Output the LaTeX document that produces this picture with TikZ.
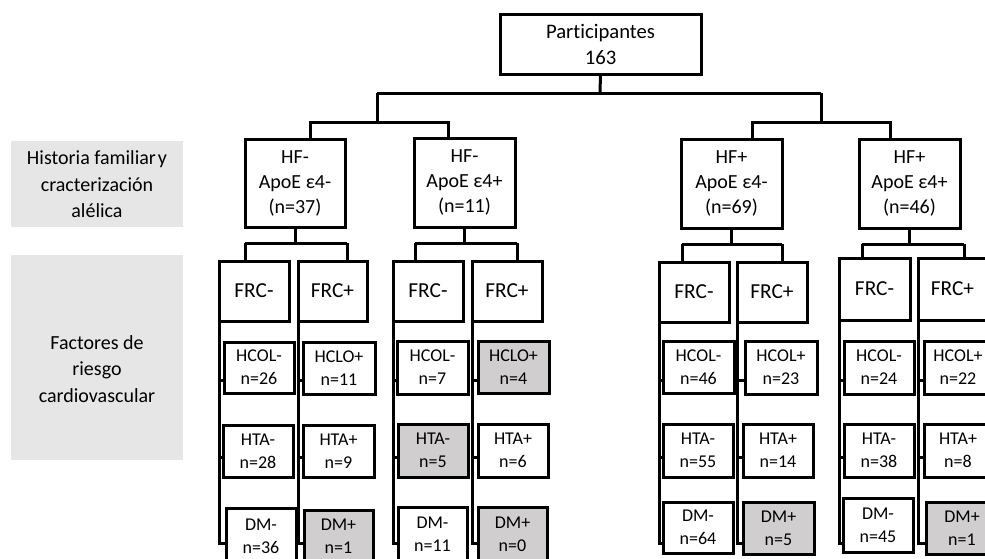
\documentclass[tikz,border=0pt]{standalone}
\usepackage{fontspec}
\setmainfont[Ligatures=NoCommon]{Carlito}
\definecolor{hl}{HTML}{D0CECE}
\definecolor{labgray}{HTML}{E7E6E6}
\newcommand\bx[7]{%
  \pgfmathsetmacro\bxcx{(#2+#4)/2}%
  \pgfmathsetmacro\bxcy{(#3+#5)/2}%
  \pgfmathsetmacro\bxw{(#4-#2)*0.75}%
  \pgfmathsetmacro\bxh{(#5-#3)*0.75}%
  \node[#6, minimum width=\bxw pt, minimum height=\bxh pt] (#1) at (\bxcx,\bxcy) {#7};}
\tikzset{
  box/.style={draw, line width=2.25pt, inner sep=0pt, outer sep=0pt, align=center, fill=white},
  big/.style={box, font=\fontsize{15}{18.75}\selectfont},
  topbox/.style={box, font=\fontsize{15.5}{19.5}\selectfont},
  frc/.style={box, font=\fontsize{16}{19}\selectfont},
  sm/.style={box, font=\fontsize{13.5}{17.25}\selectfont},
  gr/.style={fill=hl},
  labbox/.style={fill=labgray, inner sep=0pt, outer sep=0pt},
  labtxt/.style={align=center, font=\fontsize{15}{19.8}\selectfont},
  ln/.style={line width=2.25pt}
}
\begin{document}
\begin{tikzpicture}[x=0.75pt,y=-0.75pt]
\useasboundingbox (0,0) rectangle (985,558);
\clip (0,0) rectangle (985,558);
% side labels
\bx{L1}{11}{141}{183}{227}{labbox}{}
\node[labtxt] (L1t) at (97,184.5) {Historia familiar\hspace{0.1em}y\\cracterización\\alélica};
\bx{L2}{11}{255}{183}{460}{labbox}{}
\node[labtxt] (L2t) at (97,369) {Factores de\\riesgo\\cardiovascular};
% junction coordinates
\coordinate (j0) at (600,93);
\coordinate (jl) at (377,93);
\coordinate (jr) at (821,93);
\coordinate (jlm) at (377,122);
\coordinate (jrm) at (821,122);
\coordinate (jA) at (310,122);
\coordinate (jB) at (448,122);
\coordinate (jC) at (752,122);
\coordinate (jD) at (890,122);
\coordinate (t1) at (0,380);
\coordinate (t2) at (0,457);
\coordinate (t3) at (0,543);
% level 1 / 2 boxes
\bx{P}{500}{14}{701}{74}{topbox}{Participantes\\163}
\bx{A}{245}{139}{345}{227}{big}{HF-\\ApoE ε4-\\(n=37)}
\bx{B}{414}{138}{515}{227}{big}{HF-\\ApoE ε4+\\(n=11)}
\bx{C}{681}{139}{782}{228}{big}{HF+\\ApoE ε4-\\(n=69)}
\bx{D}{859}{139}{960}{228}{big}{HF+\\ApoE ε4+\\(n=46)}
% FRC boxes
\bx{A1}{219}{261}{289}{321}{frc}{FRC-}
\bx{A2}{298}{261}{367}{321}{frc}{FRC+}
\bx{B1}{393}{261}{463}{321}{frc}{FRC-}
\bx{B2}{472}{261}{542}{321}{frc}{FRC+}
\bx{C1}{659}{262}{729}{322}{frc}{FRC-}
\bx{C2}{737}{262}{807}{322}{frc}{FRC+}
\bx{D1}{839}{258}{910}{320}{frc}{FRC-}
\bx{D2}{918}{258}{987}{320}{frc}{FRC+}
% sub boxes
\bx{A1h}{224}{342}{294}{393}{sm}{HCOL-\\n=26}
\bx{A1t}{223}{425}{293}{477}{sm}{HTA-\\n=28}
\bx{A1d}{226}{508}{296}{564}{sm}{DM-\\n=36}
\bx{A2h}{303}{342}{375}{394}{sm}{HCLO+\\n=11}
\bx{A2t}{303}{425}{374}{477}{sm}{HTA+\\n=9}
\bx{A2d}{304}{510}{373}{563}{sm,gr}{DM+\\n=1}
\bx{B1h}{397}{341}{468}{394}{sm}{HCOL-\\n=7}
\bx{B1t}{398}{424}{468}{477}{sm,gr}{HTA-\\n=5}
\bx{B1d}{398}{507}{467}{561}{sm}{DM-\\n=11}
\bx{B2h}{478}{341}{549}{393}{sm,gr}{HCLO+\\n=4}
\bx{B2t}{478}{424}{548}{477}{sm}{HTA+\\n=6}
\bx{B2d}{478}{507}{547}{561}{sm,gr}{DM+\\n=0}
\bx{C1h}{663}{341}{734}{393}{sm}{HCOL-\\n=46}
\bx{C1t}{663}{424}{733}{477}{sm}{HTA-\\n=55}
\bx{C1d}{663}{502}{733}{553}{sm}{DM-\\n=64}
\bx{C2h}{745}{341}{817}{394}{sm}{HCOL+\\n=23}
\bx{C2t}{743}{424}{813}{477}{sm}{HTA+\\n=14}
\bx{C2d}{743}{502}{814}{554}{sm,gr}{DM+\\n=5}
\bx{D1h}{844}{341}{914}{394}{sm}{HCOL-\\n=24}
\bx{D1t}{844}{424}{914}{477}{sm}{HTA-\\n=38}
\bx{D1d}{843}{498}{913}{552}{sm}{DM-\\n=45}
\bx{D2h}{924}{341}{992}{394}{sm}{HCOL+\\n=22}
\bx{D2t}{924}{424}{992}{477}{sm}{HTA+\\n=8}
\bx{D2d}{926}{502}{998}{554}{sm,gr}{DM+\\n=1}
% top tree
\draw[ln] (P.south) -- (j0);
\draw[ln] (jl) -- (jr);
\draw[ln] (jl) -- (jlm);
\draw[ln] (jr) -- (jrm);
\draw[ln] (jA |- A.north) -- (jA) -- (jB) -- (jB |- B.north);
\draw[ln] (jC |- C.north) -- (jC) -- (jD) -- (jD |- D.north);
% group trees
\foreach \g/\l/\r/\yy in {A/245/347/243, B/415/517/243, C/682/782/244, D/862/964/244}{
  \draw[ln] (\g.south) -- (\g.south |- 0,\yy);
  \draw[ln] (\l,\yy) -- (\r,\yy);
  \draw[ln] (\l,\yy) -- (\l,\yy |- \g1.north);
  \draw[ln] (\r,\yy) -- (\r,\yy |- \g2.north);
}
% columns
\foreach \c in {A1,A2,B1,B2,C1,C2,D1,D2}{
  \draw[ln] (\c.south west) |- (\c d.west |- t3);
  \draw[ln] (\c.south west |- t1) -- (\c h.west |- t1);
  \draw[ln] (\c.south west |- t2) -- (\c t.west |- t2);
}
\end{tikzpicture}
\end{document}
